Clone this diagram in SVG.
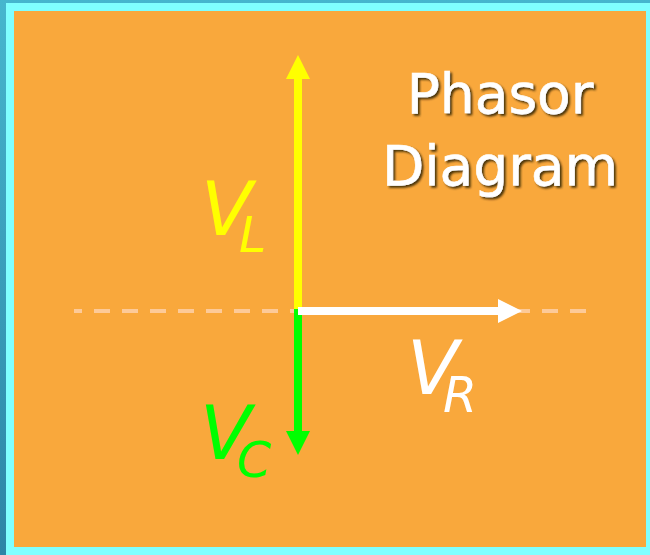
<svg xmlns="http://www.w3.org/2000/svg" width="650" height="555" viewBox="0 0 650 555">
<defs>
<linearGradient id="edge" x1="0" y1="0" x2="0" y2="1">
<stop offset="0" stop-color="#46B6CE"/>
<stop offset="1" stop-color="#2C84A6"/>
</linearGradient>
<filter id="shadow" x="-10%" y="-10%" width="130%" height="140%">
<feDropShadow dx="2" dy="2" stdDeviation="0.8" flood-color="#2a1a00" flood-opacity="0.85"/>
</filter>
<marker id="headY" markerUnits="userSpaceOnUse" markerWidth="24" markerHeight="24" refX="0" refY="12" orient="auto" viewBox="0 0 24 24">
<path d="M0,0 L24,12 L0,24 z" fill="#FFFF00"/>
</marker>
<marker id="headG" markerUnits="userSpaceOnUse" markerWidth="24" markerHeight="24" refX="0" refY="12" orient="auto" viewBox="0 0 24 24">
<path d="M0,0 L24,12 L0,24 z" fill="#00FF00"/>
</marker>
<marker id="headW" markerUnits="userSpaceOnUse" markerWidth="24" markerHeight="24" refX="0" refY="12" orient="auto" viewBox="0 0 24 24">
<path d="M0,0 L24,12 L0,24 z" fill="#FFFFFF"/>
</marker>
</defs>
<style>
.lbl{font-family:"DejaVu Sans","Verdana",sans-serif;font-style:italic;}
.v{font-size:75px;}
.sub{font-size:49px;}
.title{font-family:"DejaVu Sans","Verdana",sans-serif;font-size:55px;fill:#FFFFFF;text-anchor:middle;stroke:#FFFFFF;stroke-width:0.6;}
.vec{stroke-width:8;fill:none;}
</style>
<rect x="0" y="0" width="650" height="555" fill="url(#edge)"/>
<rect x="6" y="3" width="644" height="552" fill="#80FFFF"/>
<rect x="14" y="11" width="632" height="536" fill="#F9A83C"/>

<g id="axis">
<line x1="74" y1="311" x2="586" y2="311" stroke="#FDCA98" stroke-width="4" stroke-dasharray="16 12" stroke-dashoffset="8"/>
</g>

<g id="connectors">
<line class="vec" x1="298" y1="309" x2="298" y2="79" stroke="#FFFF00" marker-end="url(#headY)"/>
<line class="vec" x1="298" y1="309" x2="298" y2="431" stroke="#00FF00" marker-end="url(#headG)"/>
<line class="vec" x1="298" y1="311" x2="498" y2="311" stroke="#FFFFFF" marker-end="url(#headW)"/>
</g>

<g id="label-VL" class="lbl" fill="#FFFF00">
<text class="v" x="201" y="235">V</text>
<text class="sub" x="239" y="252">L</text>
</g>
<g id="label-VR" class="lbl" fill="#FFFFFF">
<text class="v" x="407" y="394">V</text>
<text class="sub" x="443" y="412">R</text>
</g>
<g id="label-VC" class="lbl" fill="#00FF00">
<text class="v" x="200" y="459">V</text>
<text class="sub" x="237" y="477">C</text>
</g>

<g id="title" filter="url(#shadow)">
<text class="title" x="500" y="113">Phasor</text>
<text class="title" x="500" y="185">Diagram</text>
</g>
</svg>
